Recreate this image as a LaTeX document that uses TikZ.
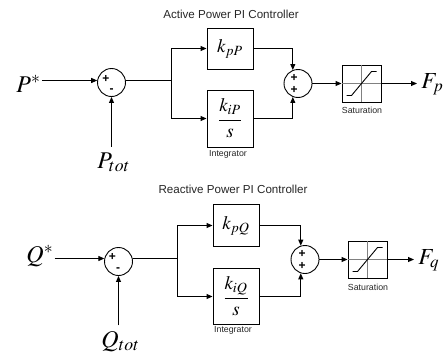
\documentclass[tikz,border=0pt]{standalone}
\usepackage{mathptmx}
\usepackage[no-math]{fontspec}
\setmainfont{Liberation Serif}
\setsansfont{Liberation Sans}
\usetikzlibrary{arrows.meta}
\begin{document}
\begin{tikzpicture}[x=1pt,y=-1pt,
  line width=0.9pt,
  arr/.style={-{Triangle[length=6pt,width=5pt]}},
  sumc/.style={circle,draw,minimum size=28pt,inner sep=0pt},
  gainbox/.style={draw,minimum width=46pt,inner sep=0pt,font=\fontsize{19}{19}\selectfont},
  satbox/.style={draw,minimum width=39pt,minimum height=37pt,inner sep=0pt},
  lbl/.style={font=\sffamily\fontsize{8.8}{9}\selectfont,text=black!85},
  ttl/.style={font=\sffamily\fontsize{11.6}{12}\selectfont,text=black!85},
  sgn/.style={font=\sffamily\bfseries\fontsize{12}{12}\selectfont,inner sep=0pt},
  bigm/.style={font=\fontsize{24}{24}\selectfont,inner sep=1pt,anchor=base west},
  outm/.style={font=\fontsize{23}{23}\selectfont,inner sep=1pt,anchor=base west},
  gridl/.style={gray,line width=0.8pt},
]
\useasboundingbox (0,0) rectangle (447,356);

% ---------------- Active power ----------------
\node[ttl] (t1) at (231,14) {Active Power PI Controller};
\node[bigm] (Pr) at (15,92) {$P^{*}$};
\node[sumc] (s1) at (111.5,82.5) {};
\node[sgn] (s1a) at (106,78.5) {+};
\node[sgn] (s1b) at (111.5,91) {-};
\node[bigm] (Pt) at (96,168) {$P_{tot}$};
\coordinate (sp1) at (171.5,80.5);
\node[gainbox,minimum height=41pt] (kp1) at (230,48.5) {$k_{pP}$};
\node[gainbox,minimum height=57pt] (ki1) at (230,118.5) {$\displaystyle\frac{k_{iP}}{s}$};
\node[lbl] (int1) at (228,154) {Integrator};
\node[sumc] (s2) at (298,83.5) {};
\node[sgn] (s2a) at (294,78) {+};
\node[sgn] (s2b) at (294,90) {+};
\node[satbox] (sat1) at (361.5,83.5) {};
\node[lbl] (satl1) at (362,110) {Saturation};
\node[outm] (Fp) at (420,88) {$F_p$};

\draw[arr] (Pr.east |- s1.172) -- (s1.172);
\draw[arr] ([yshift=4pt]Pt.north -| s1.south) -- (s1.south);
\draw (s1.8) -- (sp1);
\draw[arr] (sp1) |- (kp1.west);
\draw[arr] (sp1) |- (ki1.west);
\draw[arr] (kp1.east) -| (s2.111);
\draw[arr] (ki1.east) -| (s2.249);
\draw[arr] (s2.east) -- (sat1.west);
\draw[arr] (sat1.east) -- ([xshift=-3pt]Fp.west |- sat1.east);
\draw[gridl] (sat1.north) -- (sat1.south);
\draw[gridl] (sat1.west) -- (sat1.east);
\draw ([shift={(-15,12)}]sat1.center) -- ++(5,0) -- ++(20,-24) -- ++(5,0);

% ---------------- Reactive power ----------------
\node[ttl] (t2) at (233,189) {Reactive Power PI Controller};
\node[bigm] (Qr) at (25,262) {$Q^{*}$};
\node[sumc] (s3) at (118.5,261.5) {};
\node[sgn] (s3a) at (112.5,256.5) {+};
\node[sgn] (s3b) at (118,269.5) {-};
\node[bigm] (Qt) at (100,347) {$Q_{tot}$};
\coordinate (sp2) at (177.5,258.5);
\node[gainbox,minimum height=42pt] (kp2) at (236,225.5) {$k_{pQ}$};
\node[gainbox,minimum height=56pt] (ki2) at (236,296.5) {$\displaystyle\frac{k_{iQ}}{s}$};
\node[lbl] (int2) at (233,330) {Integrator};
\node[sumc] (s4) at (305,259.5) {};
\node[sgn] (s4a) at (302,254) {+};
\node[sgn] (s4b) at (302,266) {+};
\node[satbox] (sat2) at (367.5,259.5) {};
\node[lbl] (satl2) at (368,287) {Saturation};
\node[outm] (Fq) at (417,264) {$F_q$};

\draw[arr] (Qr.east |- s3.168) -- (s3.168);
\draw[arr] ([yshift=4pt]Qt.north -| s3.south) -- (s3.south);
\draw (s3.12) -- (sp2);
\draw[arr] (sp2) |- (kp2.west);
\draw[arr] (sp2) |- (ki2.west);
\draw[arr] (kp2.east) -| (s4.107);
\draw[arr] (ki2.east) -| (s4.253);
\draw[arr] (s4.east) -- (sat2.west);
\draw[arr] (sat2.east) -- ([xshift=-3pt]Fq.west |- sat2.east);
\draw[gridl] (sat2.north) -- (sat2.south);
\draw[gridl] (sat2.west) -- (sat2.east);
\draw ([shift={(-15,12)}]sat2.center) -- ++(5,0) -- ++(20,-24) -- ++(5,0);
\end{tikzpicture}
\end{document}
